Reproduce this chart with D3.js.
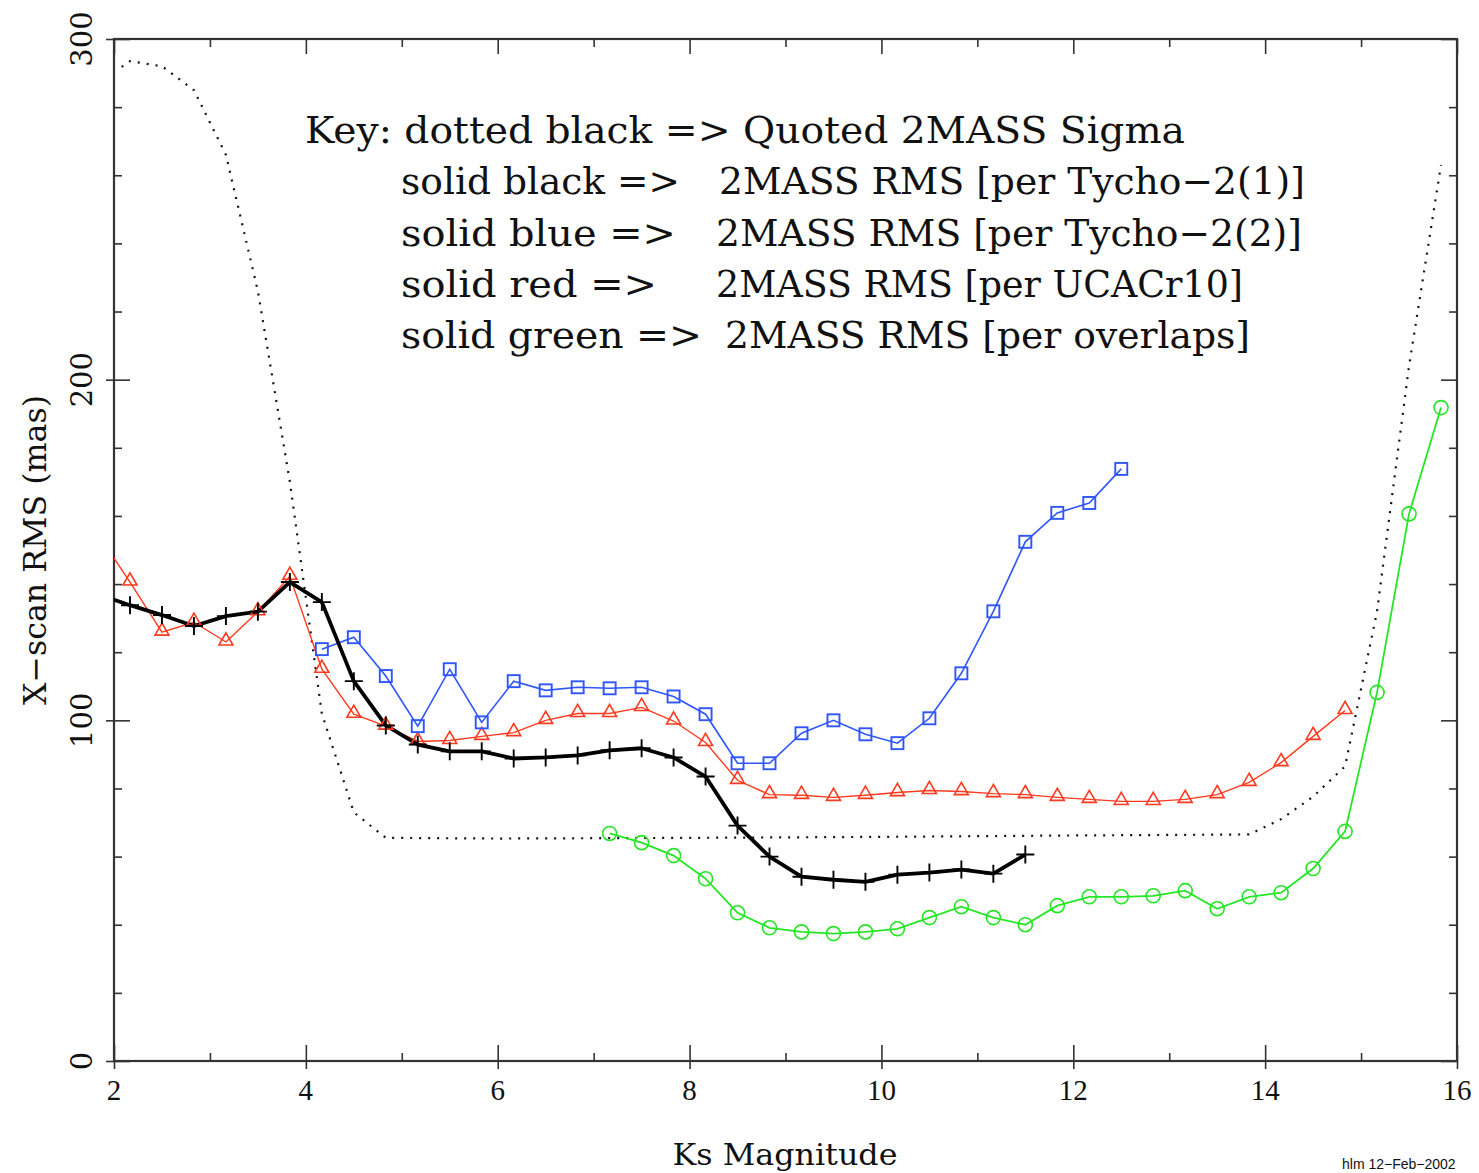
<!DOCTYPE html>
<html>
<head>
<meta charset="utf-8">
<script src="https://cdn.jsdelivr.net/npm/d3@7"></script>
<style>
  html, body { margin: 0; padding: 0; background: #fff; }
  svg { display: block; }
</style>
</head>
<body>
<svg id="chart" width="1479" height="1173"></svg>
<script>
// ---------------- DATA ----------------
// Ks magnitude bins (centres at 2+1/6 + k/3)
const blackMag = [1.8333, 2.1667, 2.5, 2.8333, 3.1667, 3.5, 3.8333, 4.1667, 4.5, 4.8333, 5.1667, 5.5, 5.8333,
  6.1667, 6.5, 6.8333, 7.1667, 7.5, 7.8333, 8.1667, 8.5, 8.8333, 9.1667, 9.5, 9.8333, 10.1667, 10.5, 10.8333, 11.1667, 11.5];
const blackRMS = [137.0, 133.8, 130.9, 127.7, 130.6, 131.9, 140.6, 134.7, 111.5, 98.5, 92.9, 90.9, 90.9,
  88.8, 89.1, 89.7, 91.2, 91.8, 89.1, 83.5, 69.1, 60.0, 54.1, 53.2, 52.6, 54.7, 55.3, 56.2, 55.0, 60.6];

const blueMag = [4.1667, 4.5, 4.8333, 5.1667, 5.5, 5.8333, 6.1667, 6.5, 6.8333, 7.1667, 7.5, 7.8333, 8.1667,
  8.5, 8.8333, 9.1667, 9.5, 9.8333, 10.1667, 10.5, 10.8333, 11.1667, 11.5, 11.8333, 12.1667, 12.5];
const blueRMS = [120.9, 124.4, 113.0, 98.3, 115.0, 99.4, 111.5, 108.8, 109.7, 109.4, 109.7, 107.0, 101.8,
  87.4, 87.4, 96.2, 100.0, 95.9, 93.3, 100.6, 113.8, 132.0, 152.4, 160.9, 163.8, 173.8];

const redMag = [1.8333, 2.1667, 2.5, 2.8333, 3.1667, 3.5, 3.8333, 4.1667, 4.5, 4.8333, 5.1667, 5.5, 5.8333,
  6.1667, 6.5, 6.8333, 7.1667, 7.5, 7.8333, 8.1667, 8.5, 8.8333, 9.1667, 9.5, 9.8333, 10.1667, 10.5,
  10.8333, 11.1667, 11.5, 11.8333, 12.1667, 12.5, 12.8333, 13.1667, 13.5, 13.8333, 14.1667, 14.5, 14.8333];
const redRMS = [154.6, 140.6, 125.9, 128.8, 123.0, 131.9, 142.3, 115.0, 101.8, 98.3, 93.8, 94.1, 95.3,
  96.4, 100.0, 102.0, 102.0, 103.8, 99.8, 93.5, 82.4, 78.2, 78.0, 77.4, 78.0, 78.8, 79.4,
  79.1, 78.5, 78.2, 77.4, 76.8, 76.2, 76.2, 76.8, 78.2, 81.8, 87.6, 95.3, 102.9];

const greenMag = [7.1667, 7.5, 7.8333, 8.1667, 8.5, 8.8333, 9.1667, 9.5, 9.8333, 10.1667, 10.5, 10.8333,
  11.1667, 11.5, 11.8333, 12.1667, 12.5, 12.8333, 13.1667, 13.5, 13.8333, 14.1667, 14.5, 14.8333,
  15.1667, 15.5, 15.8333];
const greenRMS = [66.8, 64.1, 60.3, 53.5, 43.5, 39.1, 37.9, 37.4, 37.9, 38.8, 42.1, 45.3,
  42.1, 40.0, 45.6, 48.2, 48.2, 48.5, 50.0, 44.7, 48.2, 49.4, 56.5, 67.4,
  108.2, 160.6, 191.8];

// Quoted 2MASS sigma (dotted)
const sigmaMag = [2.08, 2.1667, 2.5, 2.8333, 3.1667, 3.5, 3.8333, 4.1667, 4.5, 4.8333, 6.0, 8.0, 10.0,
  12.0, 13.8333, 14.1667, 14.5, 14.8333, 15.1667, 15.5, 15.8333];
const sigmaRMS = [291.8, 293.5, 292.0, 285.0, 266.0, 226.0, 170.0, 102.0, 73.0, 65.5, 65.3, 65.5, 65.8,
  66.2, 66.5, 71.0, 77.6, 86.5, 132.0, 204.0, 263.0];

const xTicks = [2, 4, 6, 8, 10, 12, 14, 16];
const yTicks = [0, 100, 200, 300];
const keyLines = [
  ["Key: dotted black => Quoted 2MASS Sigma"],
  ["solid black =>", "2MASS RMS [per Tycho\u22122(1)]"],
  ["solid blue =>", "2MASS RMS [per Tycho\u22122(2)]"],
  ["solid red =>", "2MASS RMS [per UCACr10]"],
  ["solid green =>", "2MASS RMS [per overlaps]"]
];
const xTitle = "Ks Magnitude";
const yTitle = "X\u2212scan RMS (mas)";
const stamp = "hlm 12\u2212Feb\u22122002";

// ---------------- LAYOUT ----------------
const L = 114, R = 1457, T = 39, B = 1061;
const x = d3.scaleLinear().domain([2, 16]).range([L, R]);
const y = d3.scaleLinear().domain([0, 300]).range([B, T]);

const svg = d3.select("#chart");
const serif = "'DejaVu Serif', 'Liberation Serif', serif";

svg.append("defs").append("clipPath").attr("id", "plotclip")
  .append("rect").attr("x", L).attr("y", T).attr("width", R - L).attr("height", B - T);

const axisColor = "#333";

// ---- axes frame and ticks ----
function xAxisTicks(sel, orient) {
  const bottom = orient === "bottom";
  const majAxis = bottom ? d3.axisBottom(x) : d3.axisTop(x);
  majAxis.tickValues(d3.range(2, 17, 2)).tickSizeInner(bottom ? -16 : -15).tickSizeOuter(0).tickFormat("");
  const gMaj = sel.append("g").attr("transform", `translate(0,${bottom ? B : T})`).call(majAxis);
  gMaj.select(".domain").remove();
  if (bottom) {
    const ext = d3.axisBottom(x).tickValues(d3.range(2, 17, 2)).tickSizeInner(8).tickSizeOuter(0).tickFormat("");
    const g2 = sel.append("g").attr("transform", `translate(0,${B})`).call(ext);
    g2.select(".domain").remove();
  }
  const minAxis = (bottom ? d3.axisBottom(x) : d3.axisTop(x))
    .tickValues(d3.range(3, 16, 2)).tickSizeInner(-8).tickSizeOuter(0).tickFormat("");
  const gMin = sel.append("g").attr("transform", `translate(0,${bottom ? B : T})`).call(minAxis);
  gMin.select(".domain").remove();
}
function yAxisTicks(sel, orient) {
  const left = orient === "left";
  const mk = () => left ? d3.axisLeft(y) : d3.axisRight(y);
  const gMaj = sel.append("g").attr("transform", `translate(${left ? L : R},0)`)
    .call(mk().tickValues(yTicks).tickSizeInner(-16).tickSizeOuter(0).tickFormat(""));
  gMaj.select(".domain").remove();
  if (left) {
    const g2 = sel.append("g").attr("transform", `translate(${L},0)`)
      .call(d3.axisLeft(y).tickValues(yTicks).tickSizeInner(8).tickSizeOuter(0).tickFormat(""));
    g2.select(".domain").remove();
  }
  const minors = d3.range(20, 300, 20).filter(v => v % 100 !== 0);
  const gMin = sel.append("g").attr("transform", `translate(${left ? L : R},0)`)
    .call(mk().tickValues(minors).tickSizeInner(-8).tickSizeOuter(0).tickFormat(""));
  gMin.select(".domain").remove();
}
const axesG = svg.append("g").attr("class", "axes");
xAxisTicks(axesG, "bottom");
xAxisTicks(axesG, "top");
yAxisTicks(axesG, "left");
yAxisTicks(axesG, "right");
axesG.selectAll("line").attr("stroke", axisColor).attr("stroke-width", 1.6);
axesG.append("rect").attr("x", L).attr("y", T).attr("width", R - L).attr("height", B - T)
  .attr("fill", "none").attr("stroke", axisColor).attr("stroke-width", 2.2);

// tick labels
svg.append("g").selectAll("text").data(xTicks).join("text")
  .attr("x", d => x(d)).attr("y", 1100)
  .attr("text-anchor", "middle")
  .attr("font-family", "'Liberation Serif', serif").attr("font-size", 29)
  .attr("fill", "#111")
  .text(d => d);
svg.append("g").selectAll("text").data(yTicks).join("text")
  .attr("transform", d => `translate(92,${y(d)}) rotate(-90)`)
  .attr("text-anchor", "middle")
  .attr("font-family", serif).attr("font-size", 29)
  .attr("fill", "#111")
  .text(d => d);

// axis titles
svg.append("text").attr("x", 785).attr("y", 1165).attr("text-anchor", "middle")
  .attr("font-family", serif).attr("font-size", 29).attr("fill", "#111")
  .attr("textLength", 225).attr("lengthAdjust", "spacingAndGlyphs")
  .text(xTitle);
svg.append("text").attr("transform", "translate(46,550) rotate(-90)").attr("text-anchor", "middle")
  .attr("font-family", serif).attr("font-size", 31).attr("fill", "#111")
  .attr("textLength", 310).attr("lengthAdjust", "spacingAndGlyphs")
  .text(yTitle);
svg.append("text").attr("x", 1342).attr("y", 1169)
  .attr("font-family", "'Liberation Sans', sans-serif").attr("font-size", 14).attr("fill", "#111")
  .text(stamp);

// ---- key text ----
const keyG = svg.append("g").attr("font-family", serif).attr("font-size", 37).attr("fill", "#111");
const keyPos = [
  [[305, 1185]],
  [[401, 680], [719, 1305]],
  [[401, 676], [716, 1302]],
  [[401, 657], [716, 1243]],
  [[401, 702], [725, 1250]]
];
const keyBase = [143, 194, 246, 297, 348];
keyLines.forEach((segs, i) => {
  segs.forEach((s, j) => {
    const [a, b] = keyPos[i][j];
    keyG.append("text").attr("x", a).attr("y", keyBase[i])
      .attr("textLength", b - a).attr("lengthAdjust", "spacingAndGlyphs")
      .text(s);
  });
});

// ---------------- SERIES ----------------
const plot = svg.append("g").attr("clip-path", "url(#plotclip)");
const line = d3.line().x(d => x(d[0])).y(d => y(d[1]));
const zip = (a, b) => a.map((v, i) => [v, b[i]]);

const sigma = zip(sigmaMag, sigmaRMS);
const black = zip(blackMag, blackRMS);
const blue = zip(blueMag, blueRMS);
const red = zip(redMag, redRMS);
const green = zip(greenMag, greenRMS);

const cBlue = "#2f55ff", cRed = "#ff3a1e", cGreen = "#25e625", cBlack = "#000";

plot.append("path").datum(sigma).attr("d", line)
  .attr("fill", "none").attr("stroke", "#111").attr("stroke-width", 2.2)
  .attr("stroke-dasharray", "2,7");

plot.append("path").datum(green).attr("d", line)
  .attr("fill", "none").attr("stroke", cGreen).attr("stroke-width", 1.8);
plot.append("path").datum(red).attr("d", line)
  .attr("fill", "none").attr("stroke", cRed).attr("stroke-width", 1.4);
plot.append("path").datum(blue).attr("d", line)
  .attr("fill", "none").attr("stroke", cBlue).attr("stroke-width", 1.6);
plot.append("path").datum(black).attr("d", line)
  .attr("fill", "none").attr("stroke", cBlack).attr("stroke-width", 3.8)
  .attr("stroke-linejoin", "round");

// markers
plot.append("g").selectAll("circle").data(green).join("circle")
  .attr("cx", d => x(d[0])).attr("cy", d => y(d[1])).attr("r", 7)
  .attr("fill", "none").attr("stroke", cGreen).attr("stroke-width", 1.6);

const tri = d3.symbol().type(d3.symbolTriangle).size(85);
plot.append("g").selectAll("path").data(red).join("path")
  .attr("transform", d => `translate(${x(d[0])},${y(d[1]) - 1})`)
  .attr("d", tri)
  .attr("fill", "none").attr("stroke", cRed).attr("stroke-width", 1.6);

plot.append("g").selectAll("rect").data(blue).join("rect")
  .attr("x", d => x(d[0]) - 6).attr("y", d => y(d[1]) - 6)
  .attr("width", 12).attr("height", 12)
  .attr("fill", "none").attr("stroke", cBlue).attr("stroke-width", 1.9);

plot.append("g").selectAll("path").data(black).join("path")
  .attr("d", d => {
    const cx = x(d[0]), cy = y(d[1]);
    return `M${cx - 9},${cy}H${cx + 9}M${cx},${cy - 9}V${cy + 9}`;
  })
  .attr("stroke", cBlack).attr("stroke-width", 1.9).attr("fill", "none");
</script>
</body>
</html>
